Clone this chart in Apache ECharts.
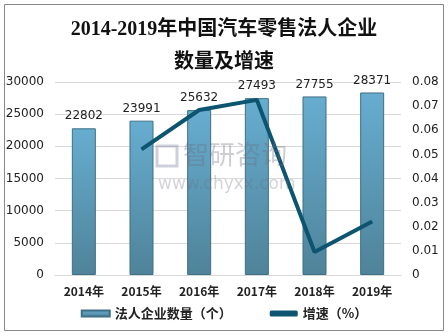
<!DOCTYPE html>
<html><head><meta charset="utf-8">
<script src="https://cdn.jsdelivr.net/npm/echarts@6/dist/echarts.min.js"></script>
<style>html,body{margin:0;padding:0;background:#fff}#c{width:448px;height:336px}</style>
</head><body><div id="c"></div>
<script>
var categories = ['2014年','2015年','2016年','2017年','2018年','2019年'];
var companies = [22802, 23991, 25632, 27493, 27755, 28371];
var growth = [null, 0.0521, 0.0684, 0.0726, 0.0095, 0.0222];
var leftTicks = [0, 30000, 5000];
var rightTicks = [0, 0.08, 0.01];

var chart = echarts.init(document.getElementById('c'));
var barGrad = new echarts.graphic.LinearGradient(0,0,0,1,[{offset:0,color:'#67add0'},{offset:1,color:'#4f8399'}]);
chart.setOption({
  animation:false,
  title:{text:'2014-2019年中国汽车零售法人企业\n数量及增速',left:'center',top:8,
    textStyle:{fontFamily:'Liberation Serif, Noto Sans CJK SC',fontSize:20,fontWeight:'bold',color:'#111',lineHeight:33}},
  graphic:[
    {type:'rect',shape:{x:4.5,y:4.5,width:439,height:326},style:{fill:'none',stroke:'#888',lineWidth:1},z:-1},
    {type:'rect',shape:{x:157,y:146,width:20,height:20},style:{fill:'none',stroke:'rgba(110,120,150,0.35)',lineWidth:3},z:100},
    {type:'text',left:183,top:141,style:{text:'智研咨询',fontSize:26,fill:'rgba(110,110,130,0.35)',fontFamily:'Noto Sans CJK SC'},z:100},
    {type:'text',left:158,top:176,style:{text:'www.chyxx.com',fontSize:17,fill:'rgba(110,110,130,0.3)',fontFamily:'DejaVu Sans'},z:100}
  ],
  grid:{left:55,right:47,top:82,bottom:61},
  legend:{bottom:11,left:'center',itemGap:38,itemWidth:28,itemHeight:6,
    textStyle:{fontSize:13,fontWeight:'bold',color:'#222',fontFamily:'Noto Sans CJK SC'},
    data:[{name:'法人企业数量（个）',icon:'rect'},{name:'增速（%）',icon:'roundRect'}]},
  xAxis:{type:'category',data:categories,
    axisLine:{lineStyle:{color:'#d9d9d9'}},axisTick:{show:false},
    axisLabel:{fontSize:12,fontWeight:'bold',color:'#222',margin:10,fontFamily:'Noto Sans CJK SC'}},
  yAxis:[
    {type:'value',min:leftTicks[0],max:leftTicks[1],interval:leftTicks[2],
      axisLine:{show:false},axisTick:{show:false},
      splitLine:{lineStyle:{color:'#d9d9d9'}},
      axisLabel:{fontSize:12,color:'#222',margin:11,fontFamily:'DejaVu Sans',
        formatter:function(v){return String(v);}}},
    {type:'value',min:rightTicks[0],max:rightTicks[1],interval:rightTicks[2],
      axisLine:{show:false},axisTick:{show:false},splitLine:{show:false},
      axisLabel:{fontSize:12,color:'#222',margin:11,fontFamily:'DejaVu Sans',
        formatter:function(v){return v===0?'0':v.toFixed(2);}}}
  ],
  series:[
    {name:'法人企业数量（个）',type:'bar',data:companies,barWidth:24,
      itemStyle:{color:barGrad,borderColor:'#3f6f85',borderWidth:1},
      label:{show:true,position:'top',fontSize:12,color:'#222',distance:6,fontFamily:'DejaVu Sans'}},
    {name:'增速（%）',type:'line',yAxisIndex:1,data:growth,symbol:'none',
      lineStyle:{color:'#0d5470',width:4},itemStyle:{color:'#0d5470'}}
  ]
});
</script></body></html>
